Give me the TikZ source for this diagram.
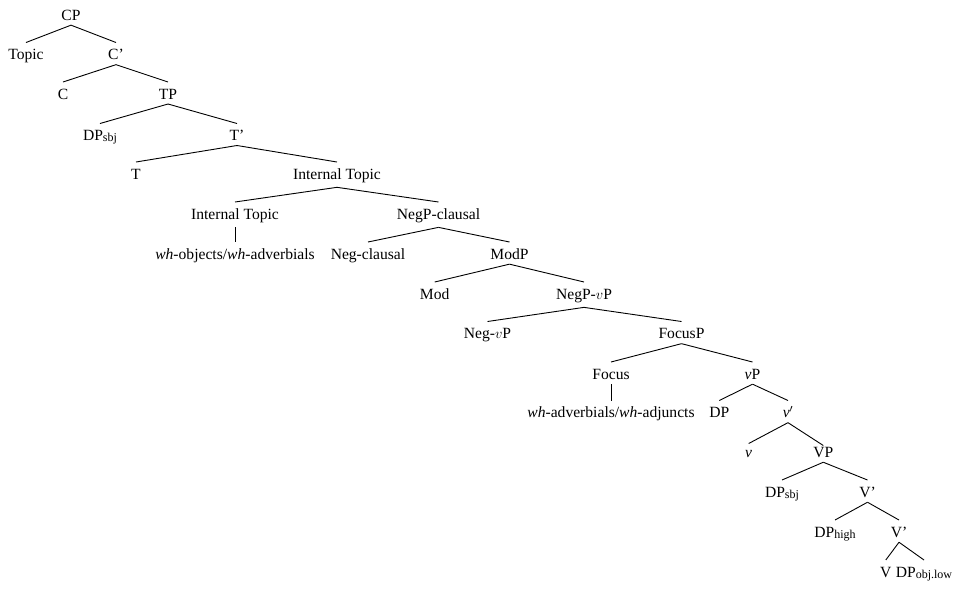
\documentclass[tikz,border=0pt]{standalone}
\usepackage{fontspec}
\setmainfont{Liberation Serif}
\newcommand\lbl[1]{\raisebox{-1pt}{\fontsize{12}{12}\selectfont #1}}
\tikzset{
  tn/.style={anchor=base, inner sep=0pt, outer sep=0pt, text height=10.5pt,
    font=\fontsize{15.6}{18}\selectfont},
  branch/.style={line width=0.9pt, black}
}
% connector from a parent label down to a child label
\newcommand\branch[3][6.5pt]{\draw[branch] ([yshift=-5pt]#2.south) -- ([yshift=#1]#3.north);}
\begin{document}
\begin{tikzpicture}[x=1pt, y=-1pt]
\useasboundingbox (0,0) rectangle (959,590);
% labels
\node[tn] (cp)     at (71,20)     {CP};
\node[tn] (topic)  at (26,59.5)   {Topic};
\node[tn] (cbar)   at (116,59.5)  {C’};
\node[tn] (c)      at (63,99)     {C};
\node[tn] (tp)     at (168,99)    {TP};
\node[tn] (dps)    at (100,140.5) {DP\lbl{sbj}};
\node[tn] (tbar)   at (237,140.5) {T’};
\node[tn] (t)      at (136,179)   {T};
\node[tn] (itop)   at (337,179)   {Internal Topic};
\node[tn] (itopl)  at (235,219)   {Internal Topic};
\node[tn] (negcp)  at (438.5,219) {NegP-clausal};
\node[tn] (whobj)  at (235,259)   {\textit{wh}-objects/\textit{wh}-adverbials};
\node[tn] (negc)   at (368,259)   {Neg-clausal};
\node[tn] (modp)   at (509.5,259) {ModP};
\node[tn] (mod)    at (434.7,299) {Mod};
\node[tn] (negvpp) at (584,299)   {NegP-$v$P};
\node[tn] (negvp)  at (487.5,338.5) {Neg-$v$P};
\node[tn] (focp)   at (681.5,338.5) {FocusP};
\node[tn] (foc)    at (611,379)   {Focus};
\node[tn] (vp)     at (752.5,379) {\textit{v}P};
\node[tn] (whadv)  at (611,417.5) {\textit{wh}-adverbials/\textit{wh}-adjuncts};
\node[tn] (dp)     at (719.3,417.5) {DP};
\node[tn] (vbar)   at (788,417.5) {\textit{v}$'$};
\node[tn] (v)      at (748.7,457) {\textit{v}};
\node[tn] (VP)     at (823.3,457) {VP};
\node[tn] (dps2)   at (782,497)   {DP\lbl{sbj}};
\node[tn] (Vbar)   at (867.5,497) {V’};
\node[tn] (dph)    at (835,537)   {DP\lbl{high}};
\node[tn] (Vbar2)  at (899,537)   {V’};
\node[tn] (V)      at (885.8,577) {V};
\node[tn] (dpo)    at (924,577)   {DP\lbl{obj.low}};
% branches
\branch{cp}{topic}   \branch{cp}{cbar}
\branch{cbar}{c}     \branch{cbar}{tp}
\branch{tp}{dps}     \branch{tp}{tbar}
\branch{tbar}{t}     \branch{tbar}{itop}
\branch{itop}{itopl} \branch{itop}{negcp}
\branch{itopl}{whobj}
\branch{negcp}{negc} \branch{negcp}{modp}
\branch{modp}{mod}   \branch{modp}{negvpp}
\branch{negvpp}{negvp} \branch{negvpp}{focp}
\branch{focp}{foc}   \branch{focp}{vp}
\branch{foc}{whadv}
\branch{vp}{dp}      \branch{vp}{vbar}
\branch[3pt]{vbar}{v} \branch[1pt]{vbar}{VP}
\branch{VP}{dps2}    \branch{VP}{Vbar}
\branch{Vbar}{dph}   \branch{Vbar}{Vbar2}
\branch{Vbar2}{V}    \branch{Vbar2}{dpo}
\end{tikzpicture}
\end{document}
